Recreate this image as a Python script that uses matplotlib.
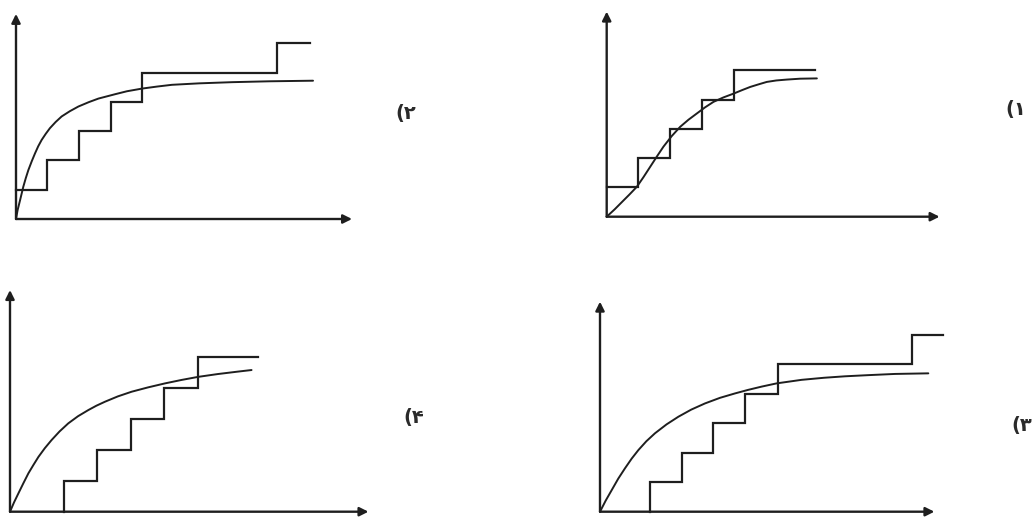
import matplotlib
matplotlib.use('Agg')
import matplotlib.pyplot as plt

# ---------------- data (units: one step width / one step height) ----------------
# panel (1) top right
p1_step_x = [0, 1.0, 2.0, 3.0, 4.0, 6.57]
p1_step_y = [1, 2, 3, 4, 5, 5]
p1_curve_x = [0, 0.25, 0.48, 0.72, 0.95, 1.16, 1.37, 1.58, 1.79, 2.05, 2.32, 2.58, 2.84,
              3.1, 3.37, 3.68, 4.0, 4.27, 4.53, 4.8, 5.05, 5.35, 5.68, 6.1, 6.63]
p1_curve_y = [0, 0.25, 0.5, 0.76, 1.02, 1.35, 1.70, 2.05, 2.39, 2.75, 3.07, 3.31, 3.52,
              3.73, 3.92, 4.07, 4.2, 4.32, 4.43, 4.52, 4.6, 4.65, 4.68, 4.71, 4.72]

# panel (2) top left
p2_step_x = [0, 0.98, 1.98, 3.0, 3.97, 8.22, 9.27]
p2_step_y = [1, 2, 3, 4, 5, 6, 6]
p2_curve_x = [0, 0.05, 0.13, 0.23, 0.31, 0.39, 0.5, 0.6, 0.7, 0.81, 0.94, 1.07, 1.25,
              1.44, 1.7, 1.97, 2.3, 2.6, 3.13, 3.5, 3.97, 4.45, 4.92, 5.78, 6.82, 8.0, 9.37]
p2_curve_y = [0, 0.3, 0.65, 1.1, 1.4, 1.67, 1.98, 2.24, 2.48, 2.7, 2.91, 3.1, 3.31,
              3.5, 3.68, 3.84, 3.99, 4.11, 4.26, 4.36, 4.45, 4.52, 4.58, 4.63, 4.67, 4.7, 4.72]

# panel (3) bottom right
p3_step_x = [1.56, 1.56, 2.57, 3.54, 4.53, 5.55, 9.74, 10.73]
p3_step_y = [0, 1, 2, 3, 4, 5, 6, 6]
p3_curve_x = [0, 0.18, 0.37, 0.57, 0.78, 0.99, 1.2, 1.45, 1.72, 2.08, 2.45, 2.85, 3.28,
              3.75, 4.22, 4.63, 5.05, 5.52, 6.3, 7.0, 7.66, 8.4, 9.22, 10.26]
p3_curve_y = [0, 0.38, 0.74, 1.12, 1.47, 1.8, 2.09, 2.39, 2.66, 2.96, 3.22, 3.46, 3.67,
              3.86, 4.01, 4.13, 4.24, 4.35, 4.47, 4.54, 4.59, 4.63, 4.67, 4.69]

# panel (4) bottom left
p4_step_x = [1.61, 1.61, 2.59, 3.61, 4.6, 5.62, 7.41]
p4_step_y = [0, 1, 2, 3, 4, 5, 5]
p4_curve_x = [0, 0.12, 0.25, 0.4, 0.55, 0.7, 0.85, 1.04, 1.24, 1.48, 1.74, 2.03, 2.34,
              2.58, 2.84, 3.22, 3.63, 4.12, 4.63, 5.12, 5.62, 6.2, 6.81, 7.21]
p4_curve_y = [0, 0.3, 0.59, 0.92, 1.24, 1.51, 1.77, 2.05, 2.31, 2.59, 2.85, 3.08, 3.28,
              3.42, 3.55, 3.72, 3.87, 4.01, 4.14, 4.25, 4.35, 4.44, 4.52, 4.57]

labels = ['(۱', '(۲', '(۳', '(۴']

W, H = 1032, 521
ink = '#1e1e1e'

fig = plt.figure(figsize=(W / 100, H / 100), dpi=100)
fig.patch.set_facecolor('white')


def panel(ox, oy, sx, sy, xtip, ytop, step_x, step_y, cx, cy):
    # place an axes so that data origin sits at pixel (ox, oy)
    xmin, xmax = -0.4, xtip + 0.4
    ymin, ymax = -0.35, ytop + 0.35
    left = ox + xmin * sx
    right = ox + xmax * sx
    top = oy - ymax * sy
    bottom = oy - ymin * sy
    ax = fig.add_axes([left / W, 1 - bottom / H, (right - left) / W, (bottom - top) / H])
    ax.set_xlim(xmin, xmax)
    ax.set_ylim(ymin, ymax)
    ax.axis('off')
    arrow = dict(arrowstyle='-|>', color=ink, lw=1.7, mutation_scale=13,
                 shrinkA=0, shrinkB=0)
    ax.annotate('', xy=(xtip, 0), xytext=(0, 0), arrowprops=arrow, annotation_clip=False)
    ax.annotate('', xy=(0, ytop), xytext=(0, 0), arrowprops=arrow, annotation_clip=False)
    ax.step(step_x, step_y, where='post', color=ink, lw=1.6, solid_joinstyle='miter')
    ax.plot(cx, cy, color=ink, lw=1.4, solid_joinstyle='round', solid_capstyle='round')
    return ax


panel(606.7, 216.7, 31.7, 29.3, 10.5, 7.0, p1_step_x, p1_step_y, p1_curve_x, p1_curve_y)
panel(16, 219, 31.7, 29.3, 10.6, 7.0, p2_step_x, p2_step_y, p2_curve_x, p2_curve_y)
panel(600, 511.7, 32, 29.5, 10.45, 7.12, p3_step_x, p3_step_y, p3_curve_x, p3_curve_y)
panel(10, 511.7, 33.5, 31, 10.7, 7.15, p4_step_x, p4_step_y, p4_curve_x, p4_curve_y)

label_pos = [(1016, 110), (406, 113), (1022, 425), (414, 418)]
for lab, (px, py) in zip(labels, label_pos):
    fig.text(px / W, 1 - py / H, lab, fontsize=14, color='#2a2a2a', fontweight='bold',
             ha='center', va='center', family=['DejaVu Sans'])

fig.savefig('out.png', dpi=100, facecolor='white')
